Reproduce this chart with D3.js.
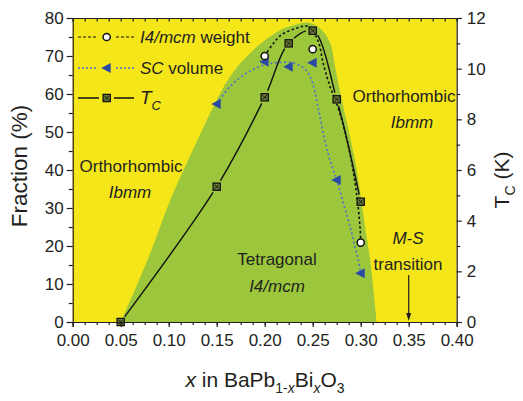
<!DOCTYPE html>
<html>
<head>
<meta charset="utf-8">
<script src="https://cdn.jsdelivr.net/npm/d3@7"></script>
<style>
  body { margin: 0; background: #fff; }
  svg { display: block; font-family: "Liberation Sans", Arial, sans-serif; }
</style>
</head>
<body>
<svg id="chart" width="523" height="401"></svg>
<script>
// ---- values ----
const xTicks = [0, 0.05, 0.10, 0.15, 0.20, 0.25, 0.30, 0.35, 0.40];
const fracTicks = [0, 10, 20, 30, 40, 50, 60, 70, 80];
const tcTicks = [0, 2, 4, 6, 8, 10, 12];

// Tc (K), right axis
const tcX = [0.05, 0.15, 0.20, 0.225, 0.25, 0.275, 0.30];
const tcVal = [0, 5.34, 8.87, 11.0, 11.5, 8.79, 4.75];

// I4/mcm weight fraction (%)
const weightX = [0.20, 0.25, 0.30];
const weightVal = [70.0, 71.8, 20.9];

// SC volume fraction (%)
const volX = [0.15, 0.20, 0.225, 0.25, 0.275, 0.30];
const volVal = [57.4, 68.5, 67.2, 68.2, 37.4, 12.8];

// dotted guide curves (as drawn)
const weightGuideX = [0.200, 0.216, 0.233, 0.245, 0.2555, 0.261, 0.268, 0.275, 0.2837, 0.2906, 0.2958, 0.2993, 0.300];
const weightGuideY = [70.0, 75.3, 77.3, 77.8, 74.0, 68.0, 62.0, 57.5, 50.0, 42.0, 33.5, 25.0, 20.9];
const volGuideX = [0.15, 0.164, 0.181, 0.1986, 0.216, 0.232, 0.244, 0.25, 0.256, 0.262, 0.268, 0.275, 0.282, 0.289, 0.294, 0.2975, 0.30];
const volGuideY = [57.4, 62.0, 65.5, 67.6, 68.3, 68.0, 66.0, 62.8, 56.0, 48.5, 42.6, 37.4, 31.2, 25.1, 19.8, 16.3, 12.8];

// tetragonal phase region (upper boundary)
const phaseX = [0.05, 0.078, 0.1015, 0.13, 0.148, 0.164, 0.181, 0.1986, 0.216, 0.232, 0.245, 0.2576, 0.268, 0.2735, 0.279, 0.287, 0.294, 0.2995, 0.3045, 0.31, 0.3166];
const phaseY = [0, 16.3, 32, 47.9, 57.4, 64.6, 69.8, 73.8, 76.8, 78.2, 78.8, 77.3, 73.5, 67, 60, 51, 42.6, 34, 25.1, 16, 0];

const svg = d3.select('#chart');
const padL = 72.7, padR = 456.7, padT = 18, padB = 322;
const ink = '#231f20';
const yellow = '#f5e61a';
const green = '#9cc63b';
const blue = '#2b4ba3';

const x = d3.scaleLinear().domain([0, 0.4]).range([padL, padR]);
const y = d3.scaleLinear().domain([0, 80]).range([padB, padT]);
const yT = d3.scaleLinear().domain([0, 12]).range([padB, padT]);

// background + phase region
svg.append('rect')
  .attr('x', padL).attr('y', padT)
  .attr('width', padR - padL).attr('height', padB - padT)
  .attr('fill', yellow);

const area = d3.area()
  .x((d, i) => x(phaseX[i]))
  .y0(y(0))
  .y1((d, i) => y(phaseY[i]))
  .curve(d3.curveCatmullRom);
svg.append('path').attr('d', area(phaseX)).attr('fill', green);

// guide curves
const guide = (xs, ys) => d3.line()
  .x((d, i) => x(xs[i]))
  .y((d, i) => y(ys[i]))
  .curve(d3.curveCatmullRom)(xs);

svg.append('path').attr('d', guide(volGuideX, volGuideY))
  .attr('fill', 'none').attr('stroke', '#4d6fd0').attr('stroke-width', 1.6)
  .attr('stroke-dasharray', '2,2.6');
svg.append('path').attr('d', guide(weightGuideX, weightGuideY))
  .attr('fill', 'none').attr('stroke', '#111').attr('stroke-width', 1.6)
  .attr('stroke-dasharray', '2.4,2.4');

// Tc line, broken around its markers
const tcPts = tcX.map((d, i) => [x(d), yT(tcVal[i])]);
const tcPath = svg.append('path')
  .attr('d', d3.line().curve(d3.curveCatmullRom)(tcPts))
  .attr('fill', 'none').attr('stroke', '#111').attr('stroke-width', 1.4);
const node = tcPath.node();
const total = node.getTotalLength();
const lens = tcPts.map(([px, py]) => {
  let best = 0, bestD = Infinity;
  for (let l = 0; l <= total; l += 0.5) {
    const p = node.getPointAtLength(l);
    const dd = (p.x - px) ** 2 + (p.y - py) ** 2;
    if (dd < bestD) { bestD = dd; best = l; }
  }
  return best;
});
const gap = 7;
const dash = [0, gap];
for (let i = 0; i < lens.length - 1; i++) {
  dash.push(Math.max(0, lens[i + 1] - lens[i] - 2 * gap), 2 * gap);
}
tcPath.attr('stroke-dasharray', dash.join(','));

// markers
function square(g, cx, cy) {
  const s = 3.6;
  g.append('rect').attr('x', cx - s).attr('y', cy - s)
    .attr('width', 2 * s).attr('height', 2 * s)
    .attr('fill', '#6e7d35').attr('stroke', '#111').attr('stroke-width', 1.3);
  g.append('path')
    .attr('d', `M${cx - 2},${cy - 2}L${cx + 2},${cy + 2}M${cx + 2},${cy - 2}L${cx - 2},${cy + 2}`)
    .attr('stroke', '#111').attr('stroke-width', 1);
}
function circle(g, cx, cy) {
  g.append('circle').attr('cx', cx).attr('cy', cy).attr('r', 3.6)
    .attr('fill', '#fff').attr('stroke', '#111').attr('stroke-width', 1.5);
}
function triangle(g, cx, cy) {
  g.append('path')
    .attr('d', `M${cx - 5.5},${cy}L${cx + 4},${cy - 5}L${cx + 4},${cy + 5}Z`)
    .attr('fill', blue);
}

const marks = svg.append('g');
volX.forEach((d, i) => triangle(marks, x(d), y(volVal[i])));
weightX.forEach((d, i) => circle(marks, x(d), y(weightVal[i])));
tcX.forEach((d, i) => square(marks, x(d), yT(tcVal[i])));

// axes
function styleAxis(g, size) {
  g.attr('font-family', null).attr('font-size', null);
  g.selectAll('path, line').attr('stroke', ink).attr('stroke-width', 1.2);
  g.selectAll('text').attr('fill', ink).style('font-size', size + 'px');
}
const minorX = d3.range(0, 0.4001, 0.0125);

svg.append('g').attr('transform', `translate(0,${padB})`)
  .call(d3.axisBottom(x).tickValues(minorX).tickSize(3).tickFormat(''))
  .call(g => g.select('.domain').remove())
  .call(g => styleAxis(g, 17));
svg.append('g').attr('transform', `translate(0,${padB})`)
  .call(d3.axisBottom(x).tickValues(xTicks).tickSize(5).tickPadding(7).tickFormat(d3.format('.2f')))
  .call(g => styleAxis(g, 17));

svg.append('g').attr('transform', `translate(0,${padT})`)
  .call(d3.axisTop(x).tickValues(minorX).tickSize(-3.5).tickFormat(''))
  .call(g => styleAxis(g, 17));

svg.append('g').attr('transform', `translate(${padL},0)`)
  .call(d3.axisLeft(y).tickValues(d3.range(5, 80, 10)).tickSize(4).tickFormat(''))
  .call(g => g.select('.domain').remove())
  .call(g => styleAxis(g, 17));
svg.append('g').attr('transform', `translate(${padL},0)`)
  .call(d3.axisLeft(y).tickValues(fracTicks).tickSize(6).tickPadding(3))
  .call(g => styleAxis(g, 17));

svg.append('g').attr('transform', `translate(${padR},0)`)
  .call(d3.axisRight(yT).tickValues(d3.range(1, 12, 2)).tickSize(3.5).tickFormat(''))
  .call(g => g.select('.domain').remove())
  .call(g => styleAxis(g, 17));
svg.append('g').attr('transform', `translate(${padR},0)`)
  .call(d3.axisRight(yT).tickValues(tcTicks).tickSize(5).tickPadding(5))
  .call(g => styleAxis(g, 17));

// axis titles
svg.append('text')
  .attr('transform', 'translate(27,166) rotate(-90)')
  .attr('text-anchor', 'middle').attr('fill', ink)
  .style('font-size', '22.5px')
  .text('Fraction (%)');

const tcTitle = svg.append('text')
  .attr('transform', 'translate(509,180) rotate(-90)')
  .attr('text-anchor', 'middle').attr('fill', ink)
  .style('font-size', '21px');
tcTitle.append('tspan').text('T');
tcTitle.append('tspan').attr('dy', 6).style('font-size', '14px').text('C');
tcTitle.append('tspan').attr('dy', -6).text(' (K)');

const xTitle = svg.append('text')
  .attr('x', 265).attr('y', 387)
  .attr('text-anchor', 'middle').attr('fill', ink)
  .style('font-size', '21px');
xTitle.append('tspan').style('font-style', 'italic').text('x');
xTitle.append('tspan').text(' in BaPb');
xTitle.append('tspan').attr('dy', 6).style('font-size', '14px').text('1-');
xTitle.append('tspan').style('font-size', '14px').style('font-style', 'italic').text('x');
xTitle.append('tspan').attr('dy', -6).text('Bi');
xTitle.append('tspan').attr('dy', 6).style('font-size', '14px').style('font-style', 'italic').text('x');
xTitle.append('tspan').attr('dy', -6).text('O');
xTitle.append('tspan').attr('dy', 6).style('font-size', '14px').text('3');

// region labels
function label(cx, cy, parts, size) {
  const t = svg.append('text').attr('x', cx).attr('y', cy)
    .attr('text-anchor', 'middle').attr('fill', ink).style('font-size', size + 'px');
  parts.forEach(([s, it]) => t.append('tspan').style('font-style', it ? 'italic' : 'normal').text(s));
}
label(131, 172, [['Orthorhombic', false]], 17);
label(130, 198, [['Ibmm', true]], 17);
label(404, 102, [['Orthorhombic', false]], 17);
label(412, 128, [['Ibmm', true]], 17);
label(277, 265, [['Tetragonal', false]], 17);
label(277, 292, [['I4/mcm', true]], 17);
label(408, 244, [['M-S', true]], 17);
label(408, 270, [['transition', false]], 17);

// M-S arrow at x = 0.35
const ax = x(0.35);
svg.append('line').attr('x1', ax).attr('x2', ax).attr('y1', 275).attr('y2', 314)
  .attr('stroke', ink).attr('stroke-width', 1.2);
svg.append('path').attr('d', `M${ax - 2.5},${313}L${ax + 2.5},${313}L${ax},${321}Z`).attr('fill', ink);

// legend
const lg = svg.append('g');
const lx = 106.7, tx = 140;
const rows = [37, 68, 98];
lg.append('path').attr('d', `M78,${rows[0]}H97M116,${rows[0]}H134`)
  .attr('stroke', '#111').attr('stroke-width', 1.2).attr('stroke-dasharray', '3,2');
circle(lg, lx, rows[0]);
lg.append('path').attr('d', `M78,${rows[1]}H97M116,${rows[1]}H134`)
  .attr('stroke', '#4d6fd0').attr('stroke-width', 1.4).attr('stroke-dasharray', '2,2');
triangle(lg, lx, rows[1]);
lg.append('path').attr('d', `M78,${rows[2]}H99M114,${rows[2]}H134`)
  .attr('stroke', '#111').attr('stroke-width', 1.5);
square(lg, lx, rows[2]);

const l1 = lg.append('text').attr('x', tx).attr('y', rows[0] + 6).attr('fill', ink).style('font-size', '17px');
l1.append('tspan').style('font-style', 'italic').text('I4/mcm');
l1.append('tspan').text(' weight');
const l2 = lg.append('text').attr('x', tx).attr('y', rows[1] + 6).attr('fill', ink).style('font-size', '17px');
l2.append('tspan').style('font-style', 'italic').text('SC');
l2.append('tspan').text(' volume');
const l3 = lg.append('text').attr('x', tx).attr('y', rows[2] + 6).attr('fill', ink).style('font-size', '19px');
l3.append('tspan').style('font-style', 'italic').text('T');
l3.append('tspan').attr('dy', 6).style('font-size', '13px').style('font-style', 'italic').text('C');
</script>
</body>
</html>
